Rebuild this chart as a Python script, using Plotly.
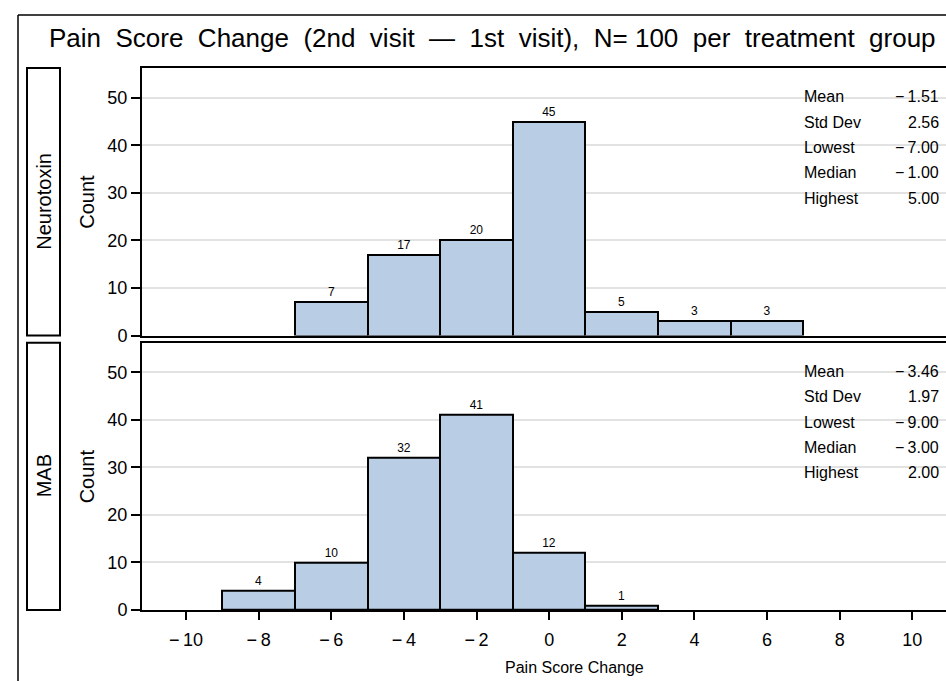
import plotly.graph_objects as go

# ---------------- data ----------------
neuro_bins = [-6, -4, -2, 0, 2, 4, 6]
neuro_counts = [7, 17, 20, 45, 5, 3, 3]
mab_bins = [-8, -6, -4, -2, 0, 2]
mab_counts = [4, 10, 32, 41, 12, 1]
bin_width = 2

stat_names = ["Mean", "Std Dev", "Lowest", "Median", "Highest"]
neuro_stats = [-1.51, 2.56, -7.00, -1.00, 5.00]
mab_stats = [-3.46, 1.97, -9.00, -3.00, 2.00]

groups = ["Neurotoxin", "MAB"]
x_ticks = [-10, -8, -6, -4, -2, 0, 2, 4, 6, 8, 10]
y_ticks = [0, 10, 20, 30, 40, 50]

title_words = ["Pain", "Score", "Change", "(2nd", "visit", "\u2014", "1st", "visit),", "N=\u00a0100",
               "per", "treatment", "group"]
x_title = "Pain Score Change"
y_title = "Count"

# ---------------- helpers ----------------
FONT = "Liberation Sans, Arial, Helvetica, sans-serif"
BAR_FILL = "#B9CDE5"
GRID = "#E2E2E2"


def fmt_num(v, dec=None):
    s = f"{abs(v):.{dec}f}" if dec is not None else f"{abs(v):g}"
    return ("\u2212\u2009" + s) if v < 0 else s


W, H = 946, 681
L, R, T, B = 142, 0, 68, 71
PW, PH = W - L - R, H - T - B


def px_x(px):
    return (px - L) / PW


def px_y(py):
    return (H - B - py) / PH


fig = go.Figure()

for xs, ys, xa, ya in [(neuro_bins, neuro_counts, "x", "y"), (mab_bins, mab_counts, "x2", "y2")]:
    fig.add_trace(go.Bar(
        x=xs, y=ys, width=bin_width,
        marker=dict(color=BAR_FILL, line=dict(color="black", width=2)),
        text=ys, textposition="outside", cliponaxis=False,
        textfont=dict(family=FONT, size=12, color="black"),
        xaxis=xa, yaxis=ya, hoverinfo="skip", showlegend=False,
    ))

x_left = -10 - (186 - L) / 36.315
x_right = 10 + (W - R - 912.3) / 36.315
y_top = 56.25

top_dom = [px_y(335.5), 1.0]
bot_dom = [0.0, px_y(342.7)]

common_y = dict(
    range=[0, y_top], tickvals=y_ticks, ticktext=[str(v) for v in y_ticks],
    ticks="outside", ticklen=9, tickwidth=1.6, tickcolor="black",
    showline=True, linecolor="black", linewidth=2, mirror=False,
    showgrid=True, gridcolor=GRID, gridwidth=1.5, zeroline=False,
    tickfont=dict(family=FONT, size=18, color="black"),
)

fig.update_layout(
    width=W, height=H,
    margin=dict(l=L, r=R, t=T, b=B),
    paper_bgcolor="white", plot_bgcolor="white",
    bargap=0,
    font=dict(family=FONT, color="black"),
    xaxis=dict(
        domain=[0, 1], anchor="y", range=[x_left, x_right],
        showline=True, linecolor="black", linewidth=2, mirror=True,
        showticklabels=False, ticks="", showgrid=False, zeroline=False,
        tickvals=x_ticks,
    ),
    yaxis=dict(domain=top_dom, anchor="x", **common_y),
    xaxis2=dict(
        domain=[0, 1], anchor="y2", range=[x_left, x_right],
        showline=True, linecolor="black", linewidth=2, mirror=True,
        tickvals=x_ticks, ticktext=[fmt_num(v) for v in x_ticks],
        ticks="outside", ticklen=8, tickwidth=1.6, tickcolor="black",
        showgrid=False, zeroline=False, ticklabelstandoff=4,
        tickfont=dict(family=FONT, size=18, color="black"),
    ),
    yaxis2=dict(domain=bot_dom, anchor="x2", **common_y),
)

shapes = []
# outer frame (left and top, the rest is outside the picture)
shapes.append(dict(type="line", xref="paper", yref="paper", x0=px_x(18), x1=px_x(18),
                   y0=px_y(15), y1=px_y(700), line=dict(color="black", width=1.5)))
shapes.append(dict(type="line", xref="paper", yref="paper", x0=px_x(18), x1=px_x(960),
                   y0=px_y(15), y1=px_y(15), line=dict(color="black", width=1.5)))
# strip boxes
for (ytop, ybot) in [(68, 335.5), (342.7, 610)]:
    shapes.append(dict(type="rect", xref="paper", yref="paper",
                       x0=px_x(27), x1=px_x(60), y0=px_y(ybot), y1=px_y(ytop),
                       line=dict(color="black", width=2), fillcolor="rgba(0,0,0,0)"))
fig.update_layout(shapes=shapes)

ann = []
# title
ann.append(dict(text="\u00a0\u00a0".join(title_words), xref="paper", yref="paper",
                x=px_x(492), y=px_y(38), xanchor="center", yanchor="middle",
                showarrow=False, font=dict(family=FONT, size=26, color="black")))
# strip labels and y titles
for g, (ytop, ybot) in zip(groups, [(68, 335.5), (342.7, 610)]):
    yc = px_y((ytop + ybot) / 2)
    ann.append(dict(text=g, xref="paper", yref="paper", x=px_x(44), y=yc,
                    textangle=-90, xanchor="center", yanchor="middle", showarrow=False,
                    font=dict(family=FONT, size=20, color="black")))
    ann.append(dict(text=y_title, xref="paper", yref="paper", x=px_x(87), y=yc,
                    textangle=-90, xanchor="center", yanchor="middle", showarrow=False,
                    font=dict(family=FONT, size=20, color="black")))
# x title
ann.append(dict(text=x_title, xref="paper", yref="paper", x=px_x(574), y=px_y(667),
                xanchor="center", yanchor="middle", showarrow=False,
                font=dict(family=FONT, size=16, color="black")))
# stats tables
for yref, stats in [("y domain", neuro_stats), ("y2 domain", mab_stats)]:
    xref = "x domain" if yref == "y domain" else "x2 domain"
    for i, (name, v) in enumerate(zip(stat_names, stats)):
        yy = 0.8916 - 0.0944 * i
        ann.append(dict(text=name, xref=xref, yref=yref, x=px_x(802), y=yy,
                        xanchor="left", yanchor="middle", showarrow=False,
                        font=dict(family=FONT, size=16, color="black")))
        ann.append(dict(text=fmt_num(v, 2), xref=xref, yref=yref, x=px_x(941), y=yy,
                        xanchor="right", yanchor="middle", showarrow=False,
                        font=dict(family=FONT, size=16, color="black")))
fig.update_layout(annotations=ann)

fig.write_html("out.html",
               config={"displayModeBar": False},
               post_script="document.body.style.margin='0';document.body.style.overflow='hidden';")
